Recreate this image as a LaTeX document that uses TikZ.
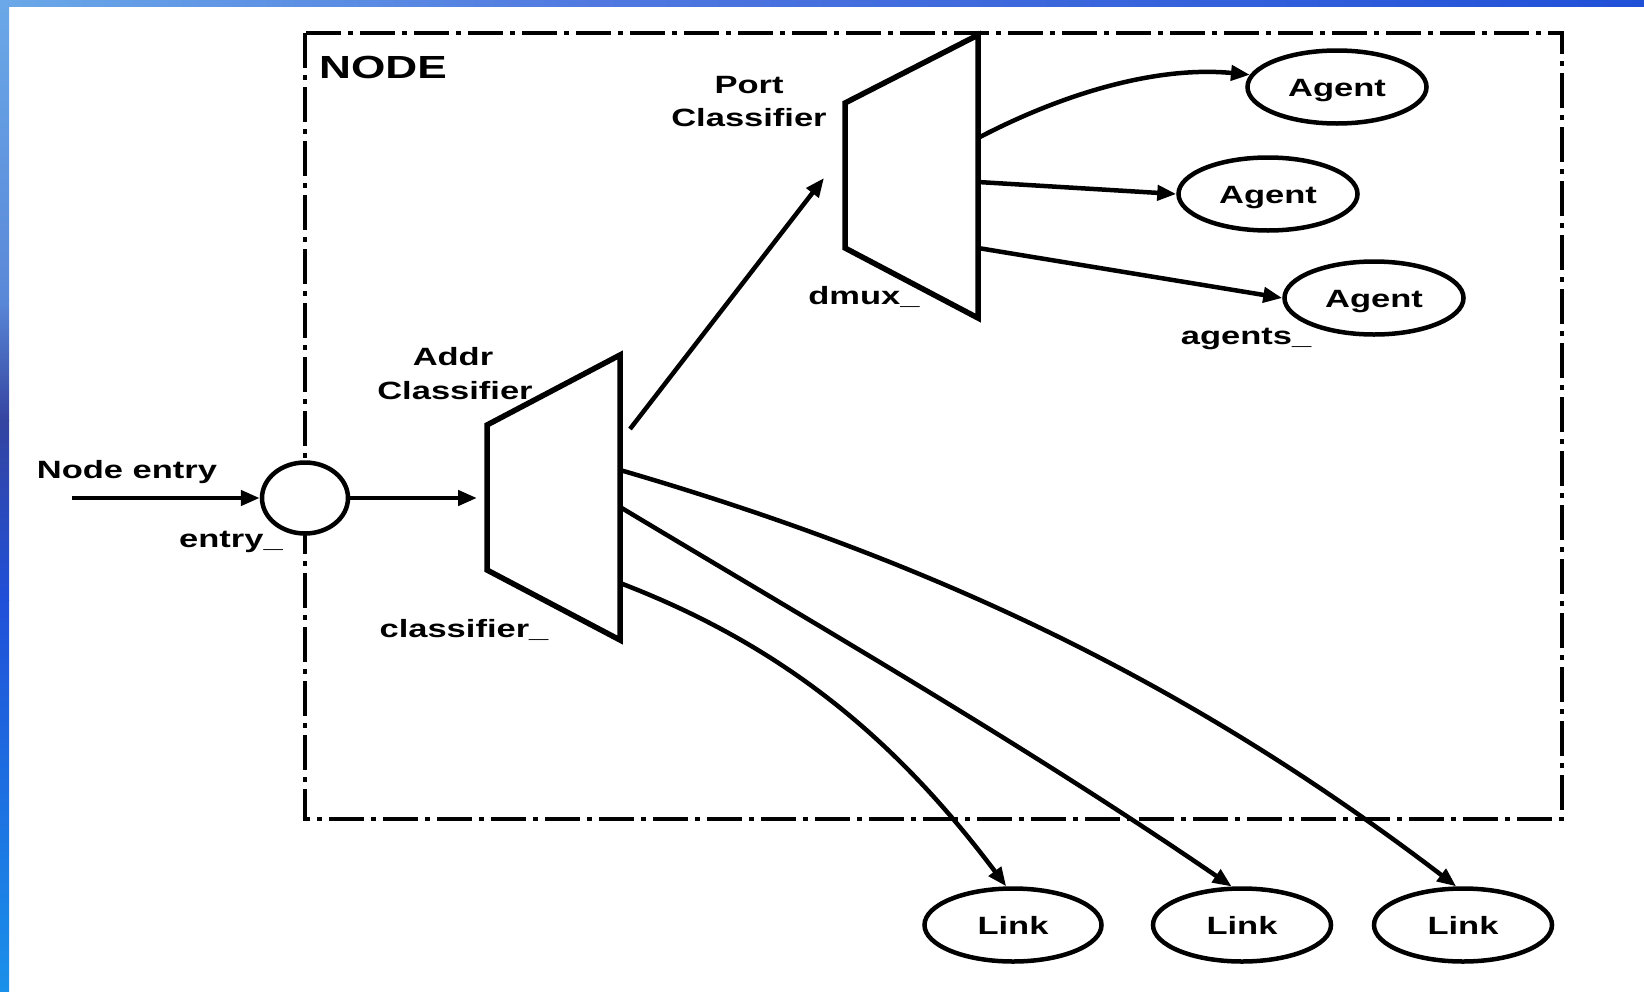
\documentclass[tikz,border=0pt]{standalone}
\usepackage{fontspec}
\setmainfont{Liberation Sans}[FakeStretch=1.38]
\usetikzlibrary{shapes.geometric,arrows.meta}
\definecolor{bA}{RGB}{106,168,232}
\definecolor{bB}{RGB}{90,136,216}
\definecolor{bC}{RGB}{52,68,160}
\definecolor{bD}{RGB}{32,80,216}
\definecolor{bE}{RGB}{26,144,234}
\definecolor{tB}{RGB}{80,120,224}
\begin{document}
\begin{tikzpicture}[x=1pt,y=-1pt,
  lbl/.style={font=\fontsize{25}{30}\selectfont\bfseries, inner sep=0pt, anchor=base},
  ell/.style={ellipse, draw, line width=4.5pt, minimum width=179pt, minimum height=73pt, inner sep=0pt,
              font=\fontsize{25}{30}\selectfont\bfseries, text height=18pt, text depth=0pt},
  conn/.style={line width=4.5pt, -{Triangle[length=19pt,width=15pt]}},
  trap/.style={draw, line width=5.5pt, line join=miter},
  nodebox/.style={line width=4.5pt, dash pattern=on 35pt off 7pt on 5pt off 7pt}
]
\useasboundingbox (0,0) rectangle (1644,991);
\fill[white] (0,0) rectangle (1644,991);
% blue frame strips
\shade[top color=bA, bottom color=bB] (0,0) rectangle (9,300);
\shade[top color=bB, bottom color=bC] (0,300) rectangle (9,420);
\shade[top color=bC, bottom color=bD] (0,420) rectangle (9,600);
\shade[top color=bD, bottom color=bE] (0,600) rectangle (9,991);
\shade[left color=bA, right color=tB] (0,0) rectangle (600,6);
\shade[left color=tB, right color=bD] (600,0) rectangle (1644,6);

% NODE box
\draw[nodebox] (305,33) rectangle (1562,819);

% classifiers
\draw[trap] (487,425) -- (620,355) -- (620,640) -- (487,570) -- cycle;
\draw[trap] (845,103) -- (978,35) -- (978,318) -- (845,248) -- cycle;

\coordinate (a1) at (620,470);
\coordinate (a2) at (620,507);
\coordinate (a3) at (620,583);
\coordinate (aup) at (630,429);
\coordinate (ain) at (477,498);
\coordinate (p1) at (978,138);
\coordinate (p2) at (978,182);
\coordinate (p3) at (978,248);
\coordinate (pin) at (824,178);
\coordinate (src) at (72,498);

% entry
\node[ellipse, draw, line width=4.5pt, fill=white, minimum width=86pt, minimum height=71pt, inner sep=0pt] (entry) at (305,498) {};

% agents and links
\node[ell] (ag1) at (1337,87) {Agent};
\node[ell] (ag2) at (1268,194) {Agent};
\node[ell] (ag3) at (1374,298) {Agent};
\node[ell, minimum width=177pt, minimum height=73pt] (link1) at (1013,925) {Link};
\node[ell, minimum width=178pt, minimum height=73pt] (link2) at (1242,925) {Link};
\node[ell, minimum width=178pt, minimum height=73pt] (link3) at (1463,925) {Link};

% connectors
\draw[conn] (src) -- (entry.west);
\draw[conn] (entry.east) -- (ain);
\draw[conn] (aup) -- (pin);
\draw[conn] (p1) .. controls (1068,91) and (1160,66) .. (ag1.172);
\draw[conn] (p2) -- (ag2.west);
\draw[conn] (p3) -- (ag3.west);
\draw[conn] (a1) .. controls (950,566) and (1200,691) .. (link3.100);
\draw[conn] (a2) .. controls (820,627) and (1025,745) .. (link2.105);
\draw[conn] (a3) .. controls (790,648) and (900,745) .. (link1.100);

% labels
\node[lbl, anchor=base west, font=\fontsize{32}{38}\selectfont\bfseries] (nodelbl) at (319,78) {NODE};
\node[lbl] (portl1) at (749,93) {Port};
\node[lbl] (portl2) at (749,126) {Classifier};
\node[lbl] (dmux) at (864,304) {dmux\_};
\node[lbl] (addrl1) at (453,365) {Addr};
\node[lbl] (addrl2) at (455,399) {Classifier};
\node[lbl] (clsl) at (464,637) {classifier\_};
\node[lbl] (nentry) at (127,478) {Node entry};
\node[lbl] (entryl) at (231,547) {entry\_};
\node[lbl] (agentsl) at (1246,344) {agents\_};
\end{tikzpicture}
\end{document}
